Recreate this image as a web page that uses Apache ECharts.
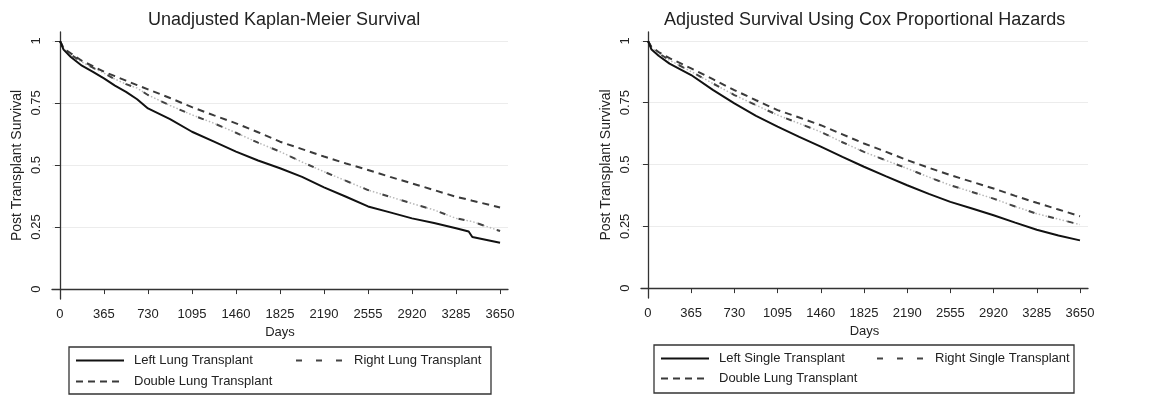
<!DOCTYPE html>
<html>
<head>
<meta charset="utf-8">
<script src="https://cdn.jsdelivr.net/npm/echarts@6/dist/echarts.min.js"></script>
<style>
  html, body { margin: 0; padding: 0; background: #fff; }
  #chart { width: 1168px; height: 395px; }
</style>
</head>
<body>
<div id="chart"></div>
<script>
// left panel: unadjusted Kaplan-Meier
const kmDays = [0, 30, 90, 182, 274, 365, 456, 548, 640, 730, 913, 1095, 1278, 1460, 1643, 1825, 2008, 2190, 2373, 2555, 2738, 2920, 3103, 3285, 3390, 3420, 3650];
const kmLeft = [1, 0.965, 0.935, 0.9, 0.875, 0.849, 0.82, 0.795, 0.765, 0.728, 0.685, 0.634, 0.594, 0.554, 0.518, 0.487, 0.452, 0.41, 0.372, 0.333, 0.309, 0.285, 0.266, 0.245, 0.232, 0.21, 0.187];
const kmRight = [1, 0.97, 0.945, 0.915, 0.892, 0.87, 0.846, 0.826, 0.81, 0.782, 0.74, 0.702, 0.668, 0.63, 0.59, 0.554, 0.512, 0.473, 0.436, 0.399, 0.372, 0.345, 0.319, 0.285, 0.275, 0.272, 0.234];
const kmDouble = [1, 0.97, 0.95, 0.92, 0.898, 0.876, 0.858, 0.84, 0.822, 0.805, 0.77, 0.733, 0.7, 0.668, 0.632, 0.594, 0.564, 0.534, 0.506, 0.48, 0.452, 0.426, 0.399, 0.372, 0.36, 0.356, 0.329];

// right panel: Cox adjusted
const coxDays = [0, 30, 90, 182, 365, 548, 730, 913, 1095, 1278, 1460, 1643, 1825, 2008, 2190, 2373, 2555, 2738, 2920, 3103, 3285, 3468, 3650];
const coxLeft = [1, 0.965, 0.94, 0.908, 0.862, 0.802, 0.747, 0.697, 0.653, 0.612, 0.572, 0.531, 0.491, 0.453, 0.416, 0.381, 0.349, 0.322, 0.295, 0.265, 0.236, 0.213, 0.193];
const coxRight = [1, 0.972, 0.95, 0.922, 0.876, 0.828, 0.781, 0.74, 0.7, 0.666, 0.632, 0.59, 0.551, 0.517, 0.484, 0.449, 0.416, 0.389, 0.362, 0.33, 0.301, 0.279, 0.257];
const coxDouble = [1, 0.975, 0.955, 0.93, 0.889, 0.845, 0.801, 0.76, 0.72, 0.69, 0.659, 0.622, 0.585, 0.552, 0.518, 0.487, 0.457, 0.43, 0.403, 0.373, 0.345, 0.318, 0.291];

const dayTicks = [0, 365, 730, 1095, 1460, 1825, 2190, 2555, 2920, 3285, 3650];
const survTicks = [0, 0.25, 0.5, 0.75, 1];

const titles = ['Unadjusted Kaplan-Meier Survival', 'Adjusted Survival Using Cox Proportional Hazards'];
const namesKM = ['Left Lung Transplant', 'Right Lung Transplant', 'Double Lung Transplant'];
const namesCox = ['Left Single Transplant', 'Right Single Transplant', 'Double Lung Transplant'];

const FONT = 'Liberation Sans, Arial, sans-serif';
const INK = '#222';

const zip = (xs, ys) => xs.map((x, i) => [x, ys[i]]);

function xAxisFor(gridIndex, min, max) {
  return {
    type: 'value', gridIndex, min, max,
    name: 'Days', nameLocation: 'middle', nameGap: 26,
    nameTextStyle: { fontFamily: FONT, fontSize: 13, color: INK },
    axisLine: { show: true, lineStyle: { color: '#333', width: 1.3 } },
    axisTick: { show: true, length: 5, customValues: dayTicks, lineStyle: { color: '#333' } },
    axisLabel: { customValues: dayTicks, margin: 9, fontFamily: FONT, fontSize: 13, color: INK,
      formatter: (v) => String(v) },
    splitLine: { show: false }
  };
}

function yAxisFor(gridIndex) {
  return {
    type: 'value', gridIndex, min: -0.04, max: 1.036,
    name: 'Post Transplant Survival', nameLocation: 'middle', nameGap: 28,
    nameTextStyle: { fontFamily: FONT, fontSize: 14, color: INK },
    axisLine: { show: true, lineStyle: { color: '#333', width: 1.3 } },
    axisTick: { show: true, length: 5, customValues: survTicks, lineStyle: { color: '#333' } },
    axisLabel: { customValues: survTicks, rotate: 90, margin: 9, fontFamily: FONT, fontSize: 13, color: INK,
      formatter: (v) => String(v) },
    splitLine: { show: true, lineStyle: { color: '#ececec', width: 1 } }
  };
}

function curves(idx, days, left, right, dbl, names) {
  const base = { type: 'line', xAxisIndex: idx, yAxisIndex: idx, symbol: 'none', showSymbol: false };
  return [
    { ...base, name: names[0], data: zip(days, left), z: 4,
      lineStyle: { color: '#111', width: 2 }, itemStyle: { color: '#111' } },
    { ...base, name: names[1], data: zip(days, right), z: 3,
      lineStyle: { color: '#444', width: 2, type: [6, 14] }, itemStyle: { color: '#444' } },
    { ...base, name: names[1], data: zip(days, right), z: 2,
      lineStyle: { color: '#b8b8b8', width: 1.5, type: [1.5, 2] }, itemStyle: { color: '#b8b8b8' } },
    { ...base, name: names[2], data: zip(days, dbl), z: 3,
      lineStyle: { color: '#3a3a3a', width: 2, type: [7, 5] }, itemStyle: { color: '#3a3a3a' } }
  ];
}

function legendItem(name, left, top) {
  return {
    data: [name], left, top, padding: 0, itemWidth: 48, itemHeight: 14,
    selectedMode: false,
    itemStyle: { opacity: 0 },
    textStyle: { fontFamily: FONT, fontSize: 13, color: INK, padding: [0, 0, 0, 5] }
  };
}

const chart = echarts.init(document.getElementById('chart'), null, { renderer: 'canvas' });

const option = {
  backgroundColor: '#fff',
  animation: false,
  title: [
    { text: titles[0], left: 143, top: 6, textStyle: { fontFamily: FONT, fontSize: 18, fontWeight: 'normal', color: INK } },
    { text: titles[1], left: 659, top: 6, textStyle: { fontFamily: FONT, fontSize: 18, fontWeight: 'normal', color: INK } }
  ],
  grid: [
    { left: 52, top: 32, width: 456, height: 267 },
    { left: 641, top: 32, width: 447, height: 266 }
  ],
  xAxis: [xAxisFor(0, -66, 3716), xAxisFor(1, -59, 3718)],
  yAxis: [yAxisFor(0), yAxisFor(1)],
  legend: [
    legendItem(namesKM[0], 75, 354),
    legendItem(namesKM[1], 295, 354),
    legendItem(namesKM[2], 75, 375),
    legendItem(namesCox[0], 660, 352),
    legendItem(namesCox[1], 876, 352),
    legendItem(namesCox[2], 660, 372)
  ],
  graphic: [
    { type: 'rect', shape: { x: 69, y: 347, width: 422, height: 47 }, style: { fill: 'none', stroke: '#333', lineWidth: 1.3 } },
    { type: 'rect', shape: { x: 654, y: 345, width: 420, height: 48 }, style: { fill: 'none', stroke: '#333', lineWidth: 1.3 } }
  ],
  series: [
    ...curves(0, kmDays, kmLeft, kmRight, kmDouble, namesKM),
    ...curves(1, coxDays, coxLeft, coxRight, coxDouble, namesCox)
  ]
};

chart.setOption(option);
window.addEventListener('resize', () => chart.resize());
</script>
</body>
</html>
